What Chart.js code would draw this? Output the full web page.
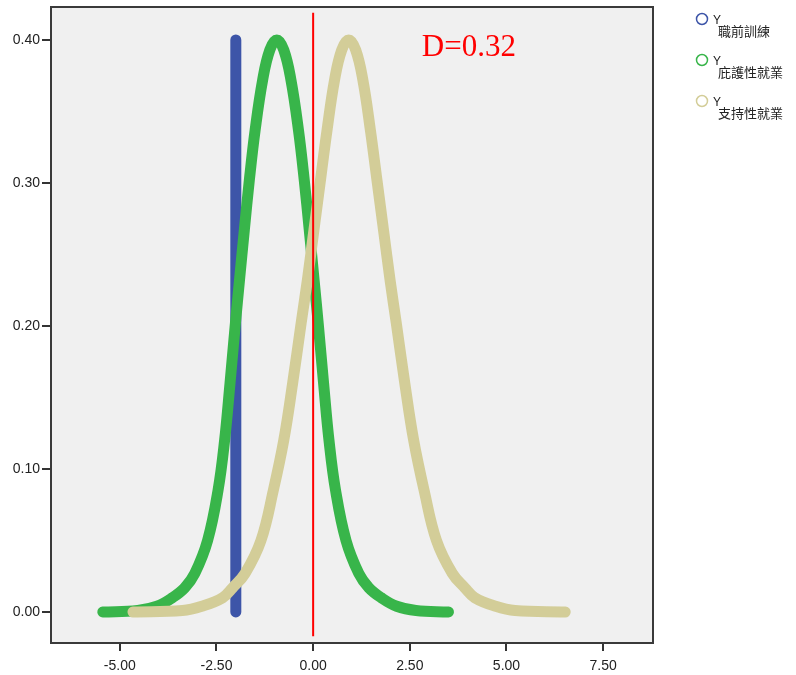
<!DOCTYPE html>
<html>
<head>
<meta charset="utf-8">
<script src="https://cdn.jsdelivr.net/npm/chart.js@4/dist/chart.umd.min.js"></script>
<style>
  body { margin: 0; background: #fff; }
</style>
</head>
<body>
<canvas id="myChart" width="796" height="675"></canvas>
<script>
// axis ticks
const xTicks = [-5, -2.5, 0, 2.5, 5, 7.5];
const yTicks = [0, 0.1, 0.2, 0.3, 0.4];

// legend names (each shown under a small "Y")
const groupNames = ['職前訓練', '庇護性就業', '支持性就業'];

// 職前訓練: a single vertical bar
const trainX = [-2, -2];
const trainY = [0, 0.40];

// 庇護性就業
const shelterX = [-5.44, -4.54, -4.04, -3.64, -3.32, -3.06, -2.73, -2.46, -2.29, -2.15, -2.01, -1.905, -1.78, -1.65,
  -1.50, -1.306, -1.12, -0.94, -0.76, -0.574, -0.38, -0.23, -0.10, 0.025, 0.13, 0.27, 0.41, 0.58, 0.85, 1.18,
  1.44, 1.76, 2.16, 2.66, 3.50];
const shelterY = [0, 0.001, 0.004, 0.010, 0.017, 0.027, 0.050, 0.085, 0.120, 0.160, 0.202, 0.232, 0.267, 0.302,
  0.337, 0.372, 0.393, 0.400, 0.393, 0.372, 0.337, 0.302, 0.267, 0.232, 0.202, 0.160, 0.120, 0.085, 0.050, 0.027,
  0.017, 0.010, 0.004, 0.001, 0];

// 支持性就業
const supportX = [-4.66, -3.38, -2.88, -2.34, -2.08, -1.76, -1.35, -1.03, -0.76, -0.53, -0.31, -0.15, 0.02, 0.19,
  0.36, 0.554, 0.74, 0.92, 1.10, 1.286, 1.48, 1.65, 1.82, 1.99, 2.15, 2.37, 2.60, 2.87, 3.19, 3.60, 3.92, 4.18,
  4.72, 5.22, 6.52];
const supportY = [0, 0.001, 0.004, 0.010, 0.017, 0.027, 0.050, 0.085, 0.120, 0.160, 0.202, 0.232, 0.267, 0.302,
  0.337, 0.372, 0.393, 0.400, 0.393, 0.372, 0.337, 0.302, 0.267, 0.232, 0.202, 0.160, 0.120, 0.085, 0.050, 0.027,
  0.017, 0.010, 0.004, 0.001, 0];

// red reference line at 0
const cutX = [0, 0];
const cutY = [0.419, -0.017];
const dLabel = 'D=0.32';

const colors = ['#3d55a8', '#38b54a', '#d3cd98'];

const pts = (xs, ys) => xs.map((x, i) => ({ x: x, y: ys[i] }));

const bandStyle = {
  showLine: true,
  pointRadius: 0,
  pointHoverRadius: 0,
  borderWidth: 11,
  borderCapStyle: 'round',
  borderJoinStyle: 'round',
  tension: 0.4,
};

const plotFrame = {
  id: 'plotFrame',
  beforeDatasetsDraw(chart) {
    const { ctx, chartArea: a } = chart;
    ctx.save();
    ctx.fillStyle = '#f0f0f0';
    ctx.fillRect(a.left, a.top, a.right - a.left, a.bottom - a.top);
    ctx.restore();
  },
  afterDatasetsDraw(chart) {
    const { ctx, chartArea: a, scales } = chart;
    ctx.save();
    ctx.strokeStyle = '#3a3a3a';
    ctx.lineWidth = 2;
    ctx.strokeRect(a.left, a.top, a.right - a.left, a.bottom - a.top);

    ctx.fillStyle = '#ff0000';
    ctx.font = '31px "Liberation Serif", serif';
    ctx.textBaseline = 'alphabetic';
    ctx.fillText(dLabel, scales.x.getPixelForValue(2.81), scales.y.getPixelForValue(0.3886));

    // legend
    groupNames.forEach((name, i) => {
      const cy = 19 + i * 41;
      ctx.beginPath();
      ctx.arc(702, cy, 5.5, 0, Math.PI * 2);
      ctx.lineWidth = 1.5;
      ctx.strokeStyle = colors[i];
      ctx.stroke();
      ctx.fillStyle = '#222';
      ctx.font = '12px "Liberation Sans", sans-serif';
      ctx.textBaseline = 'alphabetic';
      ctx.fillText('Y', 713, cy + 5);
      ctx.font = '13px "Noto Sans CJK TC", sans-serif';
      ctx.fillText(name, 718, cy + 17);
    });
    ctx.restore();
  }
};

new Chart(document.getElementById('myChart'), {
  type: 'scatter',
  data: {
    datasets: [
      { label: 'cut', data: pts(cutX, cutY), showLine: true, pointRadius: 0, borderWidth: 2,
        borderColor: '#ff0000', order: 0 },
      { label: groupNames[2], data: pts(supportX, supportY), ...bandStyle, borderColor: colors[2], order: 1 },
      { label: groupNames[1], data: pts(shelterX, shelterY), ...bandStyle, borderColor: colors[1], order: 2 },
      { label: groupNames[0], data: pts(trainX, trainY), ...bandStyle, borderColor: colors[0], order: 3 },
    ],
  },
  options: {
    responsive: false,
    animation: false,
    layout: { padding: { top: 7, right: 143, left: 0, bottom: 0 } },
    plugins: {
      legend: { display: false },
      tooltip: { enabled: false },
    },
    scales: {
      x: {
        type: 'linear',
        min: -6.78,
        max: 8.79,
        afterBuildTicks: (s) => { s.ticks = xTicks.map((v) => ({ value: v })); },
        afterFit: (s) => { s.height = 32; s.paddingLeft = 0; s.paddingRight = 0; },
        grid: { drawOnChartArea: false, drawTicks: true, tickLength: 8, color: '#333', lineWidth: 2 },
        border: { display: false },
        ticks: {
          padding: 7,
          color: '#222',
          font: { family: '"Liberation Sans", Arial, sans-serif', size: 14 },
          callback: (v) => v.toFixed(2),
        },
      },
      y: {
        type: 'linear',
        min: -0.0217,
        max: 0.423,
        afterBuildTicks: (s) => { s.ticks = yTicks.map((v) => ({ value: v })); },
        afterFit: (s) => { s.width = 51; s.paddingTop = 0; s.paddingBottom = 0; },
        grid: { drawOnChartArea: false, drawTicks: true, tickLength: 9, color: '#333', lineWidth: 2 },
        border: { display: false },
        ticks: {
          padding: 2,
          color: '#222',
          font: { family: '"Liberation Sans", Arial, sans-serif', size: 14 },
          callback: (v) => v.toFixed(2),
        },
      },
    },
  },
  plugins: [plotFrame],
});
</script>
</body>
</html>
